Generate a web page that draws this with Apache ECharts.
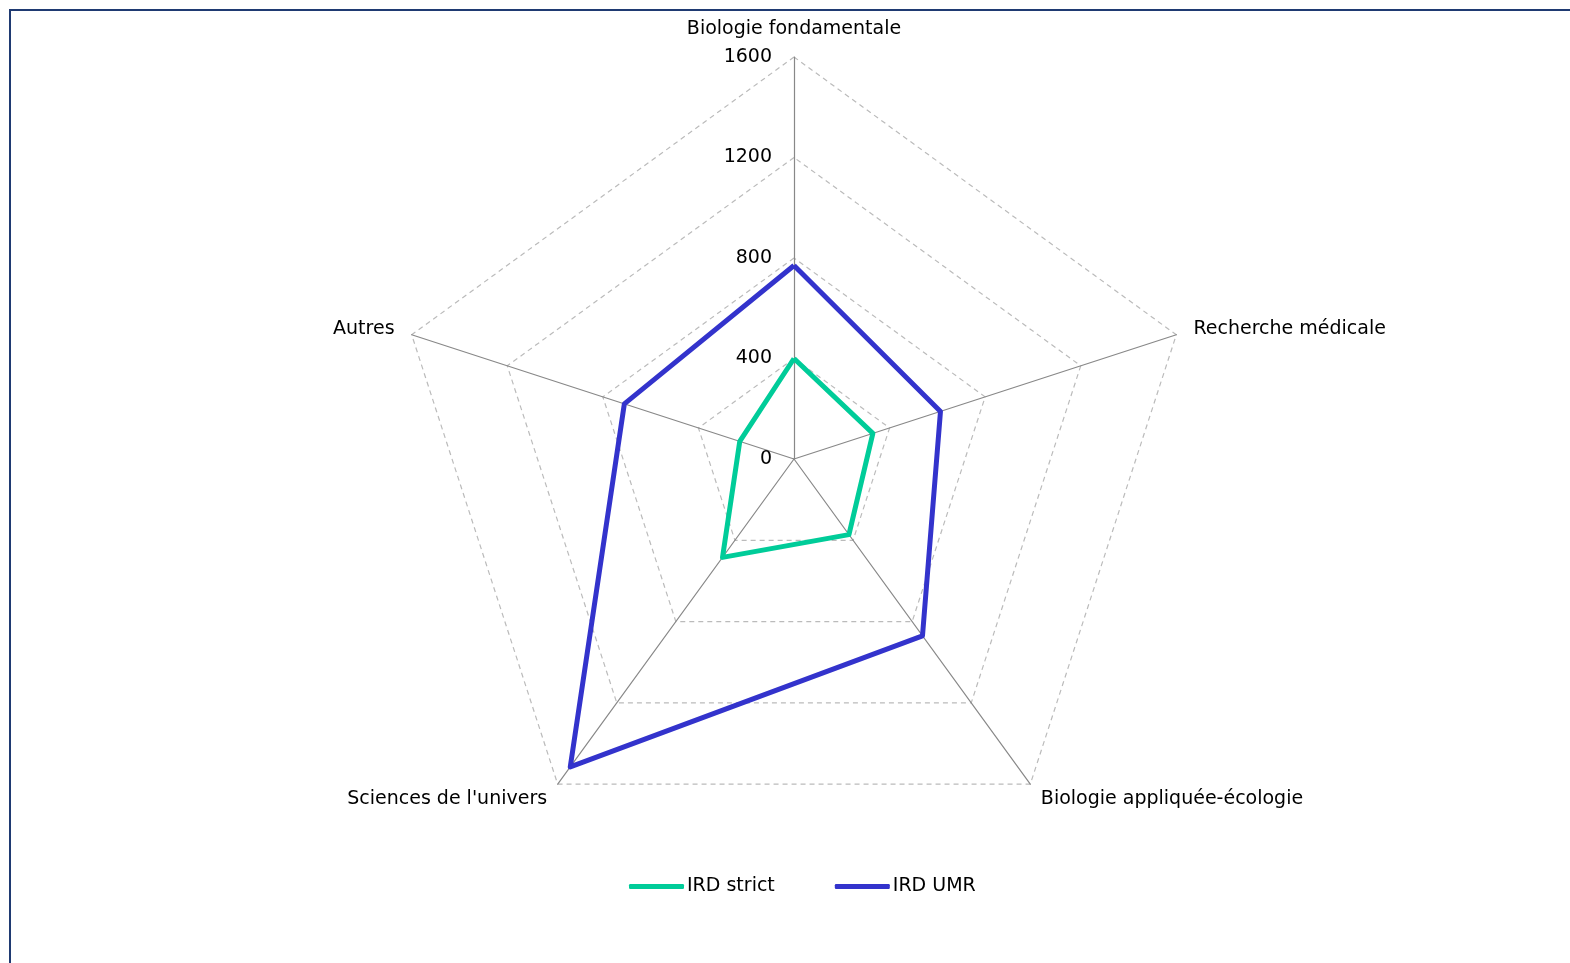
<!DOCTYPE html>
<html>
<head>
<meta charset="utf-8">
<script src="https://cdn.jsdelivr.net/npm/echarts@6/dist/echarts.min.js"></script>
<style>
html,body{margin:0;padding:0;background:#fff;overflow:hidden;}
#frame{position:absolute;left:9px;top:9px;width:1600px;height:1000px;border-left:2px solid #1f3a72;border-top:2px solid #1f3a72;}
#chart{position:absolute;left:0;top:0;width:1570px;height:963px;}
</style>
</head>
<body>
<div id="frame"></div>
<div id="chart"></div>
<script>
// Categories in clockwise order starting from the top
const categories = ['Biologie fondamentale', 'Recherche médicale', 'Biologie appliquée-écologie', "Sciences de l'univers", 'Autres'];
const irdStrict = [400, 330, 372, 484, 227];
const irdUMR = [770, 613, 870, 1515, 710];
const axisMax = 1600;
const seriesNames = ['IRD strict', 'IRD UMR'];
const colors = ['#00CC99', '#3333CC'];

// ECharts places radar indicators counter-clockwise: reorder to keep clockwise layout
function ccw(arr) { return [arr[0]].concat(arr.slice(1).reverse()); }

const indicators = ccw(categories).map((name, i) => {
  const ind = { name: name, min: 0, max: axisMax };
  if (i === 0) ind.axisLabel = { show: true };
  return ind;
});

const FONT = 'DejaVu Sans';
const FS = 19;
const chart = echarts.init(document.getElementById('chart'));
chart.setOption({
  animation: false,
  textStyle: { fontFamily: FONT },
  legend: {
    data: seriesNames,
    bottom: 62,
    left: 624,
    icon: 'roundRect',
    itemWidth: 55,
    itemHeight: 5,
    itemGap: 60,
    textStyle: { fontFamily: FONT, fontSize: FS, color: '#000', padding: [0, 0, 0, -2] }
  },
  radar: {
    center: [794, 459],
    radius: 402,
    shape: 'polygon',
    splitNumber: 4,
    indicator: indicators,
    axisName: { color: '#000', fontFamily: FONT, fontSize: FS },
    nameGap: 18,
    axisLine: { lineStyle: { color: '#888', width: 1.2 } },
    splitLine: { lineStyle: { color: '#bbb', type: [5, 4], width: 1.2 } },
    splitArea: { show: false },
    axisTick: { show: false },
    axisLabel: { show: false, color: '#000', fontFamily: FONT, fontSize: FS, margin: 22, formatter: v => String(v) }
  },
  series: [{
    type: 'radar',
    symbol: 'none',
    data: [
      { name: seriesNames[0], value: ccw(irdStrict), lineStyle: { color: colors[0], width: 5 }, itemStyle: { color: colors[0] } },
      { name: seriesNames[1], value: ccw(irdUMR), lineStyle: { color: colors[1], width: 5 }, itemStyle: { color: colors[1] } }
    ]
  }]
});
</script>
</body>
</html>
